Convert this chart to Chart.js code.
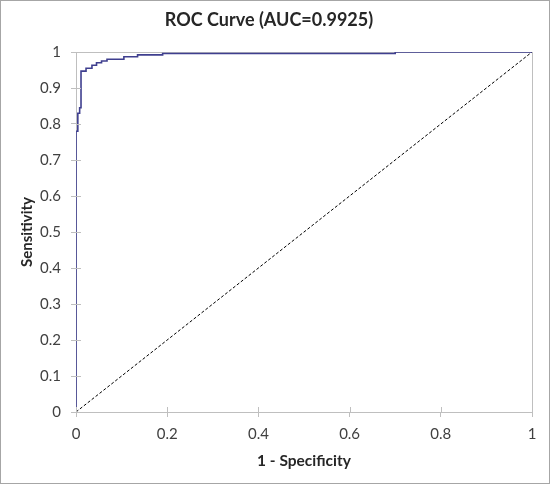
<!DOCTYPE html>
<html>
<head>
<meta charset="utf-8">
<script src="https://cdn.jsdelivr.net/npm/chart.js@4/dist/chart.umd.min.js"></script>
<style>
  html, body { margin: 0; padding: 0; background: #fff; }
  #wrap { width: 550px; height: 484px; }
</style>
</head>
<body>
<div id="wrap"><canvas id="roc-chart"></canvas></div>
<script>
// ROC curve points (1 - specificity, sensitivity)
var fpr = [0, 0, 0.004, 0.004, 0.008, 0.008, 0.011, 0.011, 0.022, 0.022, 0.035, 0.035, 0.045, 0.045,
           0.056, 0.056, 0.068, 0.068, 0.105, 0.105, 0.135, 0.135, 0.19, 0.19, 0.7, 0.7, 1];
var tpr = [0, 0.78, 0.78, 0.83, 0.83, 0.845, 0.845, 0.947, 0.947, 0.955, 0.955, 0.963, 0.963, 0.97,
           0.97, 0.975, 0.975, 0.98, 0.98, 0.987, 0.987, 0.992, 0.992, 0.996, 0.996, 1, 1];
// reference diagonal
var diagX = [0, 1];
var diagY = [0, 1];

var xTicks = [0, 0.2, 0.4, 0.6, 0.8, 1];
var yTicks = [0, 0.1, 0.2, 0.3, 0.4, 0.5, 0.6, 0.7, 0.8, 0.9, 1];

function toPoints(xs, ys) {
    return xs.map(function (x, i) { return { x: x, y: ys[i] }; });
}

var axisGray = "#bfbfbf";
var textGray = "#404040";
var fontFamily = "Lato, 'Open Sans', sans-serif";

// white background and outer frame
var framePlugin = {
    id: "frame",
    beforeDraw: function (chart) {
        var c = chart.ctx;
        c.save();
        c.fillStyle = "#fff";
        c.fillRect(0, 0, chart.width, chart.height);
        c.strokeStyle = "#a6a6a6";
        c.lineWidth = 1;
        c.strokeRect(0.5, 0.5, chart.width - 1, chart.height - 1);
        c.restore();
    }
};

// Excel style "cross" tick marks: the inner half
var crossTicks = {
    id: "crossTicks",
    afterDatasetsDraw: function (chart) {
        var c = chart.ctx, xs = chart.scales.x, ys = chart.scales.y;
        var area = chart.chartArea;
        c.save();
        c.strokeStyle = axisGray;
        c.lineWidth = 1;
        c.beginPath();
        yTicks.forEach(function (v) {
            var py = Math.round(ys.getPixelForValue(v)) + 0.5;
            c.moveTo(area.left, py);
            c.lineTo(area.left + 5, py);
        });
        xTicks.forEach(function (v) {
            var px = Math.round(xs.getPixelForValue(v)) + 0.5;
            c.moveTo(px, area.bottom);
            c.lineTo(px, area.bottom - 5);
        });
        c.stroke();
        c.restore();
    }
};

new Chart(document.getElementById("roc-chart"), {
    type: "scatter",
    data: {
        datasets: [
            {
                label: "ROC",
                data: toPoints(fpr, tpr),
                showLine: true,
                borderColor: "#3f3f8f",
                borderWidth: 1.6,
                pointRadius: 0,
                tension: 0,
                order: 1
            },
            {
                label: "Chance",
                data: toPoints(diagX, diagY),
                showLine: true,
                borderColor: "#000",
                borderWidth: 1,
                borderDash: [3, 2],
                pointRadius: 0,
                order: 2
            }
        ]
    },
    plugins: [framePlugin, crossTicks],
    options: {
        responsive: true,
        maintainAspectRatio: false,
        animation: false,
        layout: { padding: { left: 6, right: 18, top: 0, bottom: 10 } },
        plugins: {
            legend: { display: false },
            tooltip: { enabled: false },
            title: {
                display: true,
                text: "ROC Curve (AUC=0.9925)",
                color: "#262626",
                font: { family: fontFamily, size: 18, weight: "bold", lineHeight: 1.2 },
                padding: { top: 9, bottom: 21.4 }
            }
        },
        scales: {
            x: {
                type: "linear",
                min: 0,
                max: 1,
                afterBuildTicks: function (s) { s.ticks = xTicks.map(function (v) { return { value: v }; }); },
                afterFit: function (s) { s.height = 62; },
                ticks: {
                    color: textGray,
                    padding: 8,
                    font: { family: fontFamily, size: 15 },
                    callback: function (v) { return String(Math.round(v * 10) / 10); }
                },
                grid: {
                    color: function (ctx) { return ctx.tick && ctx.tick.value === 1 ? axisGray : "transparent"; },
                    tickColor: axisGray,
                    tickLength: 5
                },
                border: { color: axisGray },
                title: {
                    display: true,
                    text: "1 - Specificity",
                    color: "#262626",
                    font: { family: fontFamily, size: 15.5, weight: "bold" },
                    padding: { top: 4 }
                }
            },
            y: {
                type: "linear",
                min: 0,
                max: 1,
                afterBuildTicks: function (s) { s.ticks = yTicks.map(function (v) { return { value: v }; }); },
                afterFit: function (s) { s.width = 70; },
                ticks: {
                    color: textGray,
                    padding: 10,
                    font: { family: fontFamily, size: 15 },
                    callback: function (v) { return String(Math.round(v * 10) / 10); }
                },
                grid: {
                    color: function (ctx) { return ctx.tick && ctx.tick.value === 1 ? axisGray : "transparent"; },
                    tickColor: axisGray,
                    tickLength: 5
                },
                border: { color: axisGray },
                title: {
                    display: true,
                    text: "Sensitivity",
                    color: "#262626",
                    font: { family: fontFamily, size: 15, weight: "bold" },
                    padding: { top: 12, bottom: 4 }
                }
            }
        }
    }
});
</script>
</body>
</html>
